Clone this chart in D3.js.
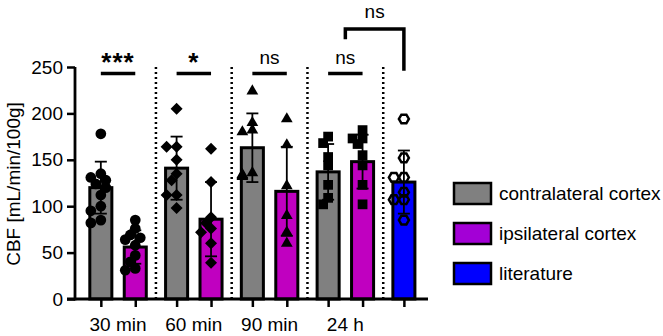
<!DOCTYPE html>
<html>
<head>
<meta charset="utf-8">
<script src="https://cdn.jsdelivr.net/npm/d3@7"></script>
<style>
  body { margin: 0; background: #fff; }
  svg { font-family: "Liberation Sans", Arial, sans-serif; }
</style>
</head>
<body>
<div id="chart"></div>
<script>
// group labels on the x axis
var groups = ['30 min', '60 min', '90 min', '24 h', ''];

// one entry per bar
var barGroup = [0, 0, 1, 1, 2, 2, 3, 3, 4];
var barSeries = ['contra', 'ipsi', 'contra', 'ipsi', 'contra', 'ipsi', 'contra', 'ipsi', 'lit'];
var barMeans = [120, 56, 141, 86, 163, 116, 137, 148, 126];
var barSD = [28, 18, 34, 40, 37, 48, 30, 29, 34];

// individual animals per bar
var points = [
    [178, 135, 131, 128, 124, 120, 112, 100, 95, 85, 82],
    [85, 76, 69, 66, 64, 58, 47, 40, 33, 31],
    [205, 164, 164, 150, 135, 128, 112, 112, 98],
    [162, 126, 88, 82, 76, 72, 60, 39],
    [224, 190, 182, 180, 136, 134, 133, 132],
    [194, 166, 122, 90, 72, 60],
    [175, 168, 153, 144, 123, 109, 102],
    [182, 173, 173, 167, 155, 144, 123, 102],
    [194, 152, 131, 131, 115, 107, 107, 85]
];
var groupMarker = ['circle', 'diamond', 'triangle', 'square', 'hexagon'];

var seriesKeys = ['contra', 'ipsi', 'lit'];
var seriesNames = ['contralateral cortex', 'ipsilateral cortex', 'literature'];
var seriesColors = ['#808080', '#c000c0', '#0000ff'];
var legendColors = ['#808080', '#a300d6', '#0000ff'];

// significance: within-group pairs, then the bracket 24 h vs literature
var sigGroups = [0, 1, 2, 3];
var sigLabels = ['***', '*', 'ns', 'ns'];
var sigLevel = 243;
var bracketLabel = 'ns';
var bracketLevel = 291;

var yTicks = [0, 50, 100, 150, 200, 250];

var width = 663, height = 336;
var margin = { top: 67, left: 75, bottom: 37 };
var groupStep = 2.2;

var svg = d3.select('#chart').append('svg')
    .attr('width', width)
    .attr('height', height);

var x = d3.scaleLinear().domain([-0.75, 9.5]).range([margin.left, 428]);
var y = d3.scaleLinear().domain([0, 250]).range([height - margin.bottom, margin.top]);
var unit = x(1) - x(0);
var barW = unit * 0.64;

function slot(i) { return barGroup[i] * groupStep + (barSeries[i] == 'ipsi' ? 1 : 0); }
function color(s) { return seriesColors[seriesKeys.indexOf(s)]; }

// dotted separators between groups
for (var g = 0; g < groups.length - 1; g++) {
    var sx = x(g * groupStep + 1 + (groupStep - 1) / 2);
    svg.append('line')
        .attr('x1', sx).attr('x2', sx)
        .attr('y1', y(0)).attr('y2', y(250))
        .attr('stroke', '#000')
        .attr('stroke-width', 2.5)
        .attr('stroke-dasharray', '2,3');
}

// bars
svg.selectAll('rect.bar')
    .data(barMeans)
    .enter().append('rect')
    .attr('class', 'bar')
    .attr('x', function (d, i) { return x(slot(i)) - barW / 2; })
    .attr('y', function (d) { return y(d); })
    .attr('width', barW)
    .attr('height', function (d) { return y(0) - y(d); })
    .attr('fill', function (d, i) { return color(barSeries[i]); })
    .attr('stroke', '#000')
    .attr('stroke-width', 3);

// simple beeswarm, markers may overlap a little like in prism
function swarm(vals, cx) {
    var placed = [];
    var step = 5, minD = 7;
    vals.forEach(function (v) {
        var py = y(v);
        for (var k = 0; k < 20; k++) {
            var off = (k % 2 == 0 ? 1 : -1) * Math.ceil(k / 2) * step;
            var ok = placed.every(function (p) {
                return Math.hypot(p.x - (cx + off), p.y - py) >= minD;
            });
            if (ok || Math.abs(off) >= 10) { placed.push({ x: cx + off, y: py }); break; }
        }
    });
    return placed;
}

function hexPath(r) {
    var pts = d3.range(6).map(function (k) {
        var a = Math.PI / 3 * k;
        return [r * Math.cos(a), r * Math.sin(a)];
    });
    return 'M' + pts.join('L') + 'Z';
}

var symbols = {
    circle: d3.symbol().type(d3.symbolCircle).size(90)(),
    diamond: 'M0,-6L6,0L0,6L-6,0Z',
    triangle: d3.symbol().type(d3.symbolTriangle).size(60)(),
    square: d3.symbol().type(d3.symbolSquare).size(95)()
};

points.forEach(function (vals, i) {
    var cx = x(slot(i));
    var m = groupMarker[barGroup[i]];
    var pos = swarm(vals, cx);
    svg.append('g').selectAll('path')
        .data(pos)
        .enter().append('path')
        .attr('transform', function (d) { return 'translate(' + d.x + ',' + d.y + ')'; })
        .attr('d', m == 'hexagon' ? hexPath(5) : symbols[m])
        .attr('fill', m == 'hexagon' ? 'none' : '#000')
        .attr('stroke', '#000')
        .attr('stroke-width', m == 'hexagon' ? 2.5 : 0);
});

// error bars (mean +- SD)
barMeans.forEach(function (d, i) {
    var cx = x(slot(i));
    var eb = svg.append('g').attr('stroke', '#000').attr('stroke-width', 1.8);
    eb.append('line').attr('x1', cx).attr('x2', cx)
        .attr('y1', y(d - barSD[i])).attr('y2', y(d + barSD[i]));
    [d - barSD[i], d + barSD[i]].forEach(function (v) {
        eb.append('line').attr('x1', cx - 6).attr('x2', cx + 6)
            .attr('y1', y(v)).attr('y2', y(v));
    });
});

// axes
var yAxis = svg.append('g')
    .attr('transform', 'translate(' + margin.left + ',0)')
    .call(d3.axisLeft(y).tickValues(yTicks).tickSize(8).tickPadding(4));
var xAxis = svg.append('g')
    .attr('transform', 'translate(0,' + y(0) + ')')
    .call(d3.axisBottom(x).tickValues(barMeans.map(function (d, i) { return slot(i); }))
        .tickSize(8).tickFormat(''));
[yAxis, xAxis].forEach(function (a) {
    a.select('.domain').attr('stroke-width', 2.8);
    a.selectAll('.tick line').attr('stroke-width', 2.5);
    a.selectAll('text').attr('font-size', 19).attr('font-family', '"Liberation Sans", Arial, sans-serif').attr('fill', '#000');
});
xAxis.select('.domain').attr('d', 'M' + (margin.left - 8) + ',0H428');
yAxis.select('.domain').attr('d', 'M0,' + y(250) + 'V' + (y(0) + 1.4));

groups.forEach(function (g, k) {
    if (!g) return;
    svg.append('text')
        .attr('x', x(k * groupStep + 0.5))
        .attr('y', y(0) + 32)
        .attr('text-anchor', 'middle')
        .attr('font-size', 19)
        .text(g);
});

svg.append('text')
    .attr('transform', 'translate(20,' + (y(125) + 1) + ') rotate(-90)')
    .attr('text-anchor', 'middle')
    .attr('font-size', 19)
    .text('CBF [mL/min/100g]');

// significance marks
sigGroups.forEach(function (g, k) {
    var x0 = x(g * groupStep), x1 = x(g * groupStep + 1);
    svg.append('line')
        .attr('x1', x0).attr('x2', x1)
        .attr('y1', y(sigLevel)).attr('y2', y(sigLevel))
        .attr('stroke', '#000').attr('stroke-width', 3.5);
    var star = sigLabels[k].indexOf('*') >= 0;
    svg.append('text')
        .attr('x', (x0 + x1) / 2)
        .attr('y', star ? y(sigLevel) - 2 : y(sigLevel) - 9)
        .attr('text-anchor', 'middle')
        .attr('font-size', star ? 26 : 19)
        .attr('font-weight', star ? 'bold' : 'normal')
        .attr('letter-spacing', star ? 1 : 0)
        .text(sigLabels[k]);
});

var bx0 = x(3 * groupStep + 0.5), bx1 = x(4 * groupStep);
svg.append('path')
    .attr('d', 'M' + bx0 + ',' + y(280) + 'V' + y(bracketLevel) + 'H' + bx1 + 'V' + y(246))
    .attr('fill', 'none')
    .attr('stroke', '#000')
    .attr('stroke-width', 3.5);
svg.append('text')
    .attr('x', (bx0 + bx1) / 2)
    .attr('y', y(bracketLevel) - 11)
    .attr('text-anchor', 'middle')
    .attr('font-size', 19)
    .text(bracketLabel);

// legend
var legend = svg.append('g').attr('transform', 'translate(454,183)');
seriesNames.forEach(function (n, k) {
    var row = legend.append('g').attr('transform', 'translate(0,' + k * 40 + ')');
    row.append('rect')
        .attr('width', 37).attr('height', 21)
        .attr('fill', legendColors[k])
        .attr('stroke', '#000').attr('stroke-width', 2.5);
    row.append('text')
        .attr('x', 45).attr('y', 17)
        .attr('font-size', 19)
        .text(n);
});
</script>
</body>
</html>
